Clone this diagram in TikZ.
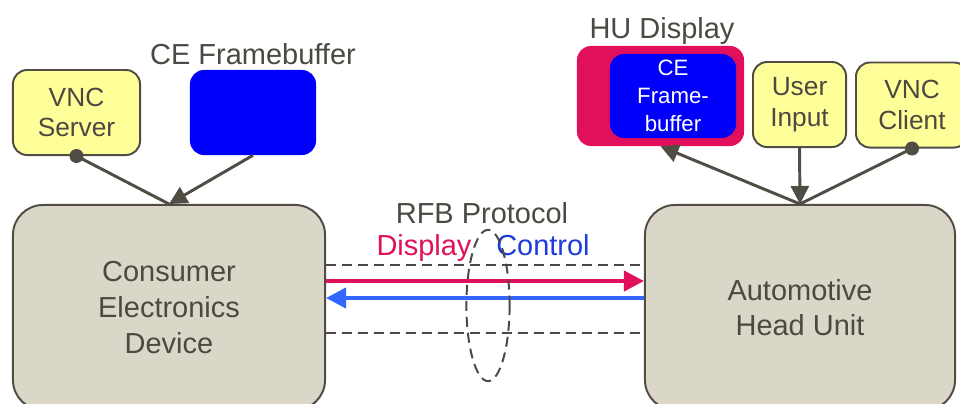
\documentclass[tikz,border=0pt]{standalone}
\usepackage{fontspec}
\setmainfont{Liberation Sans}
\usetikzlibrary{arrows.meta,positioning}

\definecolor{devfill}{RGB}{219,215,200}
\definecolor{edgegray}{RGB}{80,77,68}
\definecolor{noteyellow}{RGB}{255,255,153}
\definecolor{fbblue}{RGB}{0,0,250}
\definecolor{hured}{RGB}{225,16,92}
\definecolor{ctrlblue}{RGB}{51,102,255}
\definecolor{ctrltext}{RGB}{30,60,220}
\definecolor{labelgray}{RGB}{75,73,66}

\begin{document}
\begin{tikzpicture}[x=0.025cm,y=-0.025cm,
  device/.style={draw=edgegray,fill=devfill,line width=1.4pt,rounded corners=0.75cm,
    minimum height=5.125cm,align=center,text=labelgray,font=\fontsize{20.6}{25.3}\selectfont},
  appbox/.style={draw=edgegray,fill=noteyellow,line width=1.4pt,rounded corners=0.35cm,
    minimum height=2.125cm,align=center,text=labelgray,font=\fontsize{18.7}{21.7}\selectfont},
  fbbox/.style={fill=fbblue,rounded corners=0.35cm},
  caption/.style={anchor=base,text=labelgray,font=\fontsize{20.6}{25}\selectfont},
  link/.style={draw=edgegray,line width=2.1pt},
  pointer/.style={-{Triangle[length=0.45cm,width=0.45cm]}},
  flow/.style={line width=2.8pt,-{Triangle[length=0.5cm,width=0.5cm]}},
  channel/.style={draw=labelgray,line width=1.4pt,dash pattern=on 0.25cm off 0.15cm}]
\clip (0,0) rectangle (960,403);

\node[device,minimum width=7.8cm] (ced) at (169,307.5) {Consumer\\Electronics\\Device};
\node[device,minimum width=7.75cm] (hu) at (800,307.5) {Automotive\\Head Unit};

\node[appbox,minimum width=3.175cm] (vncs) at (76.5,112.5) {VNC\\Server};
\node[fbbox,minimum width=3.15cm,minimum height=2.125cm] (cefb) at (253,112.5) {};
\node[caption] (cefblabel) at (253,64) {CE Framebuffer};

\node[fill=hured,rounded corners=0.35cm,minimum width=4.175cm,minimum height=2.5cm] (hudisp) at (660.5,96) {};
\node[fbbox,minimum width=3.15cm,minimum height=2.1cm,align=center,text=white,
  font=\fontsize{15.8}{19.9}\selectfont] (hufb) at (673,96) {CE\\Frame-\\buffer};
\node[caption] (hulabel) at (662,38) {HU Display};
\node[appbox,minimum width=2.325cm] (uin) at (799.5,104.5) {User\\Input};
\node[appbox,minimum width=2.8cm] (vncc) at (912,105) {VNC\\Client};

\draw[link] (vncs.south) -- (ced.north);
\fill[edgegray] (vncs.south) circle (0.175cm);
\draw[link,pointer] (cefb.south) -- (ced.north);
\draw[link,pointer] (hu.north) -- (hudisp.south);
\draw[link,pointer] (uin.south) -- (hu.north);
\draw[link] (vncc.south) -- (hu.north);
\fill[edgegray] (vncc.south) circle (0.175cm);

\draw[channel] (ced.east |- 0,265) -- (hu.west |- 0,265);
\draw[channel] (ced.east |- 0,333) -- (hu.west |- 0,333);
\draw[flow,hured] (ced.east |- 0,281) -- (hu.west |- 0,281);
\draw[flow,ctrlblue] (hu.west |- 0,298) -- (ced.east |- 0,298);

\node[caption] (rfb) at (482,223) {RFB Protocol};
\node[caption,text=hured] (disp) at (424,255) {Display};
\node[caption,text=ctrltext] (ctrl) at (543,255) {Control};
\draw[channel] (488,305.5) ellipse [x radius=0.54cm,y radius=1.89cm];
\end{tikzpicture}
\end{document}
